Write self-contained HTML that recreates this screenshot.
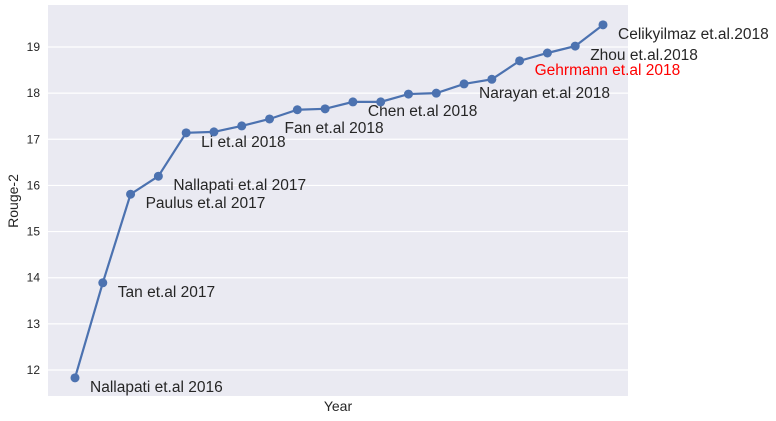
<!DOCTYPE html>
<html><head><meta charset="utf-8"><style>
body{margin:0;background:#fff;}
svg{display:block;font-family:"Liberation Sans","DejaVu Sans",sans-serif;}
</style></head><body>
<svg id="chart" width="776" height="421"></svg>
<script>
const labels=["Nallapati et.al 2016","Tan et.al 2017","Paulus et.al 2017","Nallapati et.al 2017","Li et.al 2018","","","Fan et.al 2018","","","Chen et.al 2018","","","","Narayan et.al 2018","","Gehrmann et.al 2018","","Zhou et.al.2018","Celikyilmaz et.al.2018"];
const values=[11.83,13.89,15.81,16.2,17.14,17.16,17.29,17.44,17.64,17.66,17.81,17.81,17.98,18.0,18.2,18.3,18.7,18.87,19.02,19.48];
const yTicks=[12,13,14,15,16,17,18,19];
const ns="http://www.w3.org/2000/svg";
const svg=document.getElementById("chart");
const L=48,R=628,T=5,B=396;
const x=i=>75+i*(603-75)/(values.length-1);
const y=v=>370-(v-12)*(370-47)/7;
function mk(t,a){const e=document.createElementNS(ns,t);for(const k in a)e.setAttribute(k,a[k]);svg.appendChild(e);return e;}
const bg=mk("rect",{x:L,y:T,width:R-L,height:B-T,fill:"#EAEAF2"});


yTicks.forEach(t=>{
  const g=mk("line",{x1:L,x2:R,y1:y(t),y2:y(t),stroke:"#fff","stroke-width":1.2});
  
  
  const tx=mk("text",{x:40,y:y(t)+4,"text-anchor":"end","font-size":12,fill:"#262626"});
  tx.textContent=t;
  
  
});
const line=mk("polyline",{points:values.map((v,i)=>x(i)+","+y(v)).join(" "),fill:"none",stroke:"#4C72B0","stroke-width":2.2});


values.forEach((v,i)=>{
  const c=mk("circle",{cx:x(i),cy:y(v),r:4.5,fill:"#4C72B0"});
  
  
  if(labels[i]){
    const t=mk("text",{x:x(i)+15,y:y(v)+14,"font-size":15.5,fill:labels[i].startsWith("Gehrmann")?"#ff0000":"#262626"});
    t.textContent=labels[i];
    
    
  }
});
const yl=mk("text",{x:0,y:0,"font-size":14,fill:"#262626","text-anchor":"middle",transform:"translate(18,201) rotate(-90)"});
yl.textContent="Rouge-2";


const xl=mk("text",{x:338,y:411,"font-size":14,fill:"#262626","text-anchor":"middle"});
xl.textContent="Year";


</script>
</body></html>
